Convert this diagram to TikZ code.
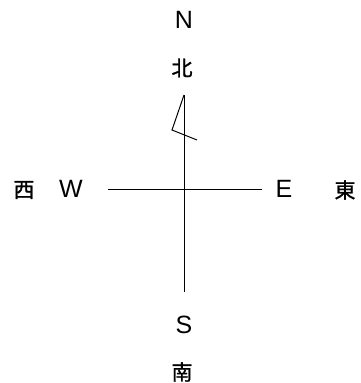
\documentclass[tikz,border=0pt]{standalone}
\usepackage{fontspec}
\setmainfont{Liberation Sans}
\newfontfamily\cjk[FakeBold=1.2]{Noto Sans CJK SC}
\begin{document}
\begin{tikzpicture}[x=1pt,y=-1pt,
  lat/.style={font=\fontsize{25}{25}\selectfont, inner sep=0pt},
  han/.style={font=\cjk\fontsize{21}{21}\selectfont, inner sep=0pt},
  ln/.style={line width=1pt}]
\useasboundingbox (0,0) rectangle (360,383);
\node[lat] (N) at (184,20) {N};
\node[han] (bei) at (182,68) {北};
\node[lat] (W) at (71,189) {W};
\node[han] (xi) at (24,190) {西};
\node[lat] (E) at (284,189) {E};
\node[han] (dong) at (345,190) {東};
\node[lat] (S) at (184,325) {S};
\node[han] (nan) at (182,372) {南};
\coordinate (top) at (184,95);
\coordinate (bot) at (184,292);
\coordinate (left) at (108,189);
\coordinate (right) at (262,189);
\coordinate (fl) at (172,130);
\coordinate (fr) at (197,140);
\draw[ln] (top) -- (bot);
\draw[ln] (left) -- (right);
\draw[ln, line join=miter] (top) -- (fl) -- (fr);
\end{tikzpicture}
\end{document}
